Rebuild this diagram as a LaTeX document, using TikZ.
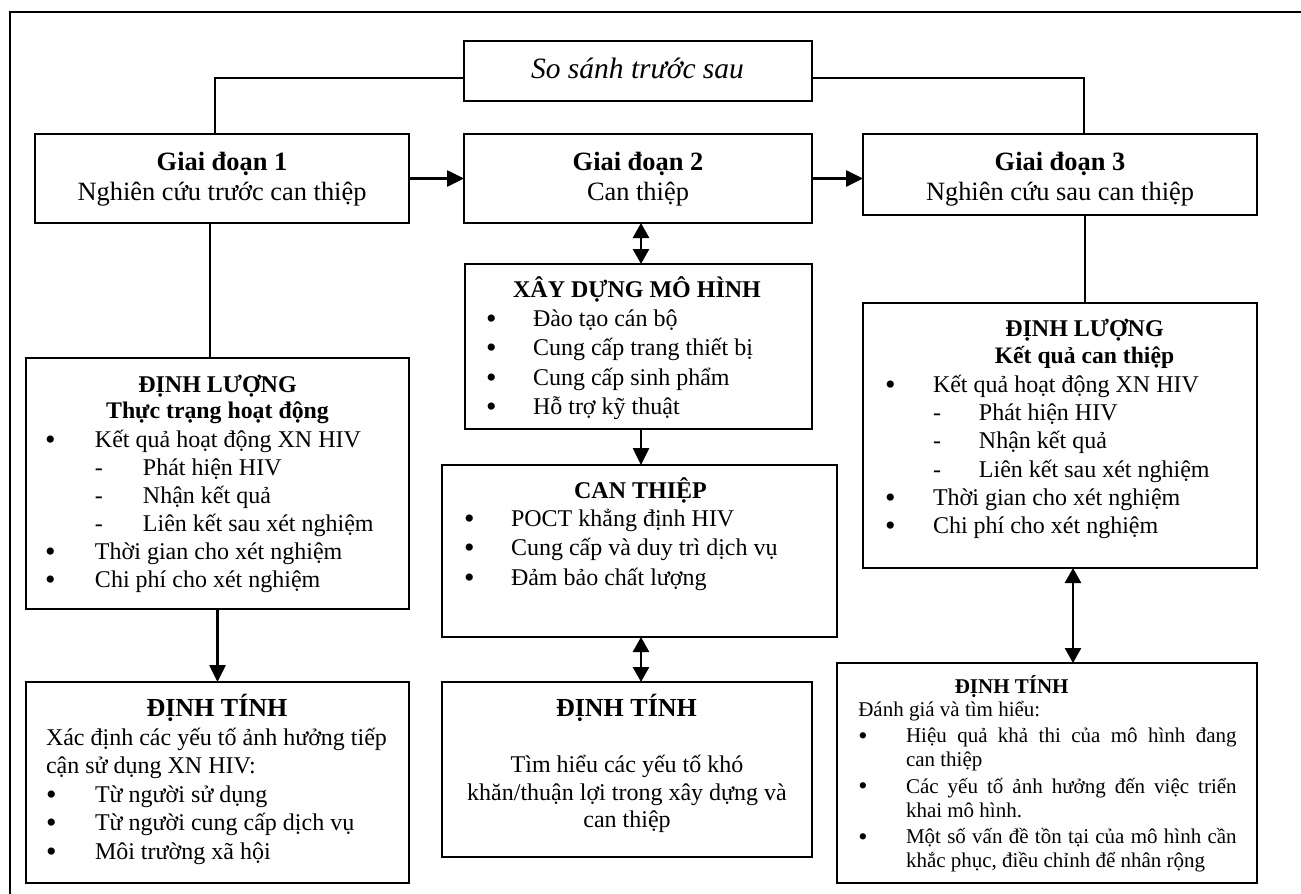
\documentclass[tikz,border=0pt]{standalone}
\usepackage{graphicx}
\usepackage{fontspec}
\setmainfont{Liberation Serif}
\usetikzlibrary{arrows.meta}

% font size / line spacing in pt
\newcommand\fs[2]{\fontsize{#1pt}{#2pt}\selectfont}
% a slightly enlarged bullet
\newcommand\bigdot{\smash{\raisebox{-0.08em}{\scalebox{1.25}{\textbullet}}}}
% bullet in a box of given width
\newcommand\bul[1]{\makebox[#1][l]{\bigdot}}
% dash sub-item: indent, then dash box
\newcommand\dsh[2]{\hspace*{#1}\makebox[#2][l]{-}}
% a justified line of given width
\newcommand\jline[2]{{\spaceskip=0.25em plus 1em\hbox to #1{#2}}}

\tikzset{
  box/.style={draw, line width=2.4pt, anchor=north west, inner sep=0pt, outer sep=0pt},
  link/.style={line width=1.7pt},
  arr/.style={line width=2.6pt, -{Triangle[length=17pt,width=16pt]}},
  darr/.style={line width=2.6pt, {Triangle[length=15pt,width=16pt]}-{Triangle[length=15pt,width=16pt]}},
  % text blocks keep plain word spaces of a quarter em
  txt/.style={inner sep=0pt, outer sep=0pt, text width=#1,
    execute at begin node={\spaceskip=0.25em\xspaceskip=0.25em}},
}

\begin{document}
\begin{tikzpicture}[x=1pt,y=-1pt]
\path[use as bounding box, fill=white] (0,0) rectangle (1301,894);

% page frame
\draw[line width=2.2pt] (10,894) -- (10,12) -- (1301,12);

% boxes
\node[box, minimum width=348pt, minimum height=60pt] (cmp) at (464,41) {};
\node[box, minimum width=374pt, minimum height=89pt] (g1) at (35,134) {};
\node[box, minimum width=348pt, minimum height=89pt] (g2) at (464,134) {};
\node[box, minimum width=394pt, minimum height=81pt] (g3) at (863,134) {};
\node[box, minimum width=383pt, minimum height=251pt] (dl1) at (26,358) {};
\node[box, minimum width=383pt, minimum height=201pt] (dt1) at (26,682) {};
\node[box, minimum width=347pt, minimum height=165pt] (xd) at (465,264) {};
\node[box, minimum width=395pt, minimum height=172pt] (ct) at (442,465) {};
\node[box, minimum width=370pt, minimum height=175pt] (dt2) at (442,682) {};
\node[box, minimum width=394pt, minimum height=265pt] (dl3) at (863,303) {};
\node[box, minimum width=420pt, minimum height=220pt] (dt3) at (837,663) {};

% junction points of the connectors
\coordinate (jl) at (215,78);
\coordinate (jr) at (1084,78);
\coordinate (jd1) at (210,0);
\coordinate (jd3) at (1085,0);
\coordinate (ja2) at (641,0);
\coordinate (ja3) at (1073,0);

% connectors
\draw[link] (cmp.west |- jl) -| (g1.north -| jl);
\draw[link] (cmp.east |- jr) -| (g3.north -| jr);
\draw[arr] (g1.east) -- (g2.west);
\draw[arr] (g2.east) -- (g2.east -| g3.west);
\draw[link] (g1.south -| jd1) -- (dl1.north -| jd1);
\draw[arr] (dl1.south) -- (dt1.north);
\draw[darr] (g2.south -| ja2) -- (xd.north -| ja2);
\draw[arr] (xd.south -| ja2) -- (ct.north -| ja2);
\draw[darr] (ct.south -| ja2) -- (dt2.north -| ja2);
\draw[link] (g3.south -| jd3) -- (dl3.north -| jd3);
\draw[darr] (dl3.south -| ja3) -- (dt3.north -| ja3);

% texts
\node[txt=340pt, align=center, anchor=base, font=\itshape\fs{29.5}{32}] (cmpt) at (637.5,78.3) {So sánh trước sau};

\node[txt=370pt, align=center, anchor=base, font=\fs{26.4}{30}] (g1t) at (222,170)
  {{\bfseries Giai đoạn 1}\\Nghiên cứu trước can thiệp};
\node[txt=340pt, align=center, anchor=base, font=\fs{26.4}{30}] (g2t) at (638,170)
  {{\bfseries Giai đoạn 2}\\Can thiệp};
\node[txt=380pt, align=center, anchor=base, font=\fs{26.4}{30}] (g3t) at (1060,170)
  {{\bfseries Giai đoạn 3}\\Nghiên cứu sau can thiệp};

% quantitative, before
\node[txt=370pt, align=center, anchor=base, font=\bfseries\fs{24}{26.5}] (dl1h) at (217.5,392)
  {ĐỊNH LƯỢNG\\\fs{23.8}{26.5}Thực trạng hoạt động};
\node[txt=400pt, align=left, anchor=base west, font=\fs{24}{28}] (dl1l) at (45,447.7)
  {\bul{50pt}Kết quả hoạt động XN HIV\\
   \dsh{50pt}{48pt}Phát hiện HIV\\
   \dsh{50pt}{48pt}Nhận kết quả\\
   \dsh{50pt}{48pt}Liên kết sau xét nghiệm\\
   \bul{50pt}Thời gian cho xét nghiệm\\
   \bul{50pt}Chi phí cho xét nghiệm};

% model building
\node[txt=340pt, align=center, anchor=base, font=\bfseries\fs{24}{28}] (xdh) at (637,297.7)
  {XÂY DỰNG MÔ HÌNH};
\node[txt=400pt, align=left, anchor=base west, font=\fs{24}{29.2}] (xdl) at (486,326.7)
  {\bul{47pt}Đào tạo cán bộ\\
   \bul{47pt}Cung cấp trang thiết bị\\
   \bul{47pt}Cung cấp sinh phẩm\\
   \bul{47pt}Hỗ trợ kỹ thuật};

% intervention
\node[txt=380pt, align=center, anchor=base, font=\bfseries\fs{24}{28}] (cth) at (640.5,498.3)
  {CAN THIỆP};
\node[txt=400pt, align=left, anchor=base west, font=\fs{24}{29.2}] (ctl) at (464,526.7)
  {\bul{47pt}POCT khẳng định HIV\\
   \bul{47pt}Cung cấp và duy trì dịch vụ\\
   \bul{47pt}Đảm bảo chất lượng};

% quantitative, after
\node[txt=380pt, align=center, anchor=base, font=\bfseries\fs{24}{26.5}] (dl3h) at (1084.5,336.7)
  {ĐỊNH LƯỢNG\\\fs{23.6}{26.5}Kết quả can thiệp};
\node[txt=400pt, align=left, anchor=base west, font=\fs{24}{28.1}] (dl3l) at (885,392.7)
  {\bul{48pt}Kết quả hoạt động XN HIV\\
   \dsh{48pt}{46pt}Phát hiện HIV\\
   \dsh{48pt}{46pt}Nhận kết quả\\
   \dsh{48pt}{46pt}Liên kết sau xét nghiệm\\
   \bul{48pt}Thời gian cho xét nghiệm\\
   \bul{48pt}Chi phí cho xét nghiệm};

% qualitative, before
\node[txt=370pt, align=center, anchor=base, font=\bfseries\fs{26}{30}] (dt1h) at (217,716.7)
  {ĐỊNH TÍNH};
\node[txt=400pt, align=left, anchor=base west, font=\fs{24}{28.6}] (dt1l) at (46,745)
  {Xác định các yếu tố ảnh hưởng tiếp\\
   cận sử dụng XN HIV:\\
   \bul{49pt}Từ người sử dụng\\
   \bul{49pt}Từ người cung cấp dịch vụ\\
   \bul{49pt}Môi trường xã hội};

% qualitative, during
\node[txt=360pt, align=center, anchor=base, font=\bfseries\fs{26}{30}] (dt2h) at (626.5,716.7)
  {ĐỊNH TÍNH};
\node[txt=360pt, align=center, anchor=base, font=\fs{24}{27.3}] (dt2l) at (627,772.7)
  {Tìm hiểu các yếu tố khó\\
   khăn/thuận lợi trong xây dựng và\\
   can thiệp};

% qualitative, after
\node[txt=380pt, align=center, anchor=base, font=\bfseries\fs{21}{24}] (dt3h) at (1011.7,693.3)
  {ĐỊNH TÍNH};
\node[txt=400pt, align=left, anchor=base west, font=\fs{21}{24}] (dt3l) at (858.3,716.7)
  {Đánh giá và tìm hiểu:\\[2pt]
   \bul{47.7pt}\jline{330.7pt}{Hiệu quả khả thi của mô hình đang}\\
   \hspace*{47.7pt}can thiệp\\[2.6pt]
   \bul{47.7pt}\jline{330.7pt}{Các yếu tố ảnh hưởng đến việc triển}\\
   \hspace*{47.7pt}khai mô hình.\\[2.6pt]
   \bul{47.7pt}\jline{330.7pt}{Một số vấn đề tồn tại của mô hình cần}\\
   \hspace*{47.7pt}khắc phục, điều chỉnh để nhân rộng};

\end{tikzpicture}
\end{document}
